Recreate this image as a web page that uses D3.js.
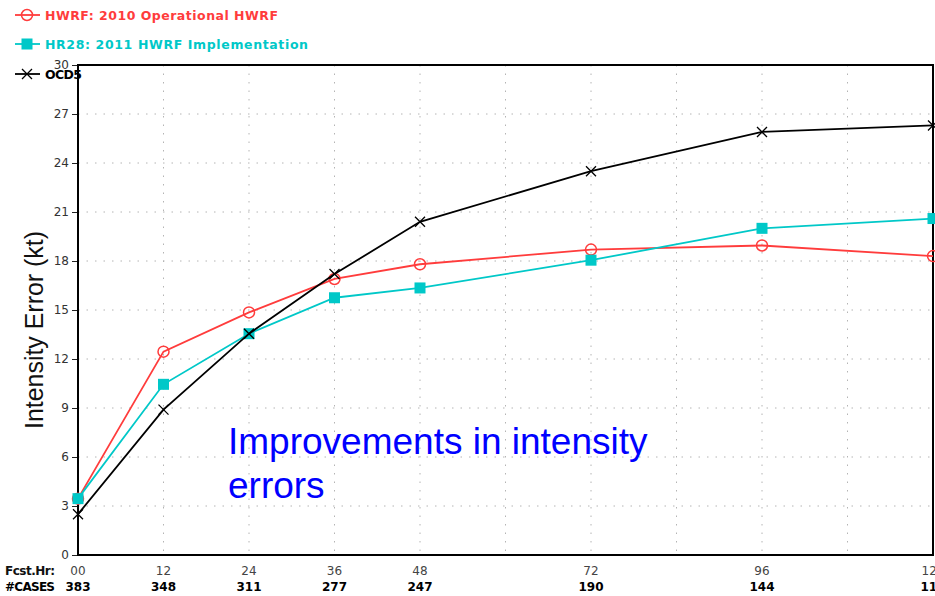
<!DOCTYPE html>
<html>
<head>
<meta charset="utf-8">
<script src="https://cdn.jsdelivr.net/npm/d3@7"></script>
<style>
  body { margin: 0; background: #fff; }
  svg { display: block; }
</style>
</head>
<body>
<div id="chart"></div>
<script>
// Forecast hours and verification sample sizes
const hours = [0, 12, 24, 36, 48, 72, 96, 120];
const hourLabels = ["00", "12", "24", "36", "48", "72", "96", "120"];
const cases = ["383", "348", "311", "277", "247", "190", "144", "113"];
const yTicks = [0, 3, 6, 9, 12, 15, 18, 21, 24, 27, 30];

// Intensity error (kt) per model
const hwrf = [3.45, 12.45, 14.85, 16.9, 17.8, 18.7, 18.95, 18.3];
const hr28 = [3.45, 10.45, 13.55, 15.75, 16.35, 18.05, 20.0, 20.6];
const ocd5 = [2.5, 8.9, 13.55, 17.2, 20.4, 23.5, 25.9, 26.3];

const seriesNames = ["HWRF: 2010 Operational HWRF", "HR28: 2011 HWRF Implementation", "OCD5"];

const width = 935;
const height = 596;
const margins = {top: 65, right: 2, bottom: 41, left: 78};

const svg = d3.select("#chart")
    .append("svg")
    .attr("width", width)
    .attr("height", height);

const xScale = d3.scaleLinear()
    .domain([0, 120])
    .range([margins.left, width - margins.right]);

const yScale = d3.scaleLinear()
    .domain([0, 30])
    .range([height - margins.bottom, margins.top]);

// Dotted grid, every 12 h and every 3 kt
svg.append("g")
    .selectAll("line")
    .data(d3.range(12, 120, 12))
    .enter()
    .append("line")
    .attr("x1", d => xScale(d))
    .attr("x2", d => xScale(d))
    .attr("y1", yScale(30))
    .attr("y2", yScale(0))
    .attr("stroke", "#b4b4b4")
    .attr("stroke-width", 1)
    .attr("stroke-dasharray", "1.5,7");

svg.append("g")
    .selectAll("line")
    .data(yTicks.slice(1, -1))
    .enter()
    .append("line")
    .attr("x1", xScale(0))
    .attr("x2", xScale(120))
    .attr("y1", d => yScale(d))
    .attr("y2", d => yScale(d))
    .attr("stroke", "#b4b4b4")
    .attr("stroke-width", 1)
    .attr("stroke-dasharray", "1.5,7");

// Left axis with short ticks
const yAxis = svg.append("g")
    .attr("transform", `translate(${margins.left},0)`)
    .call(d3.axisLeft(yScale).tickValues(yTicks).tickSize(6).tickPadding(3));
yAxis.select(".domain").remove();
yAxis.selectAll("line").attr("stroke", "#222");
yAxis.selectAll("text")
    .attr("font-family", "DejaVu Sans, sans-serif")
    .attr("font-size", 12)
    .attr("fill", "#333");

// Frame round the plot
svg.append("rect")
    .attr("x", xScale(0))
    .attr("y", yScale(30))
    .attr("width", xScale(120) - xScale(0))
    .attr("height", yScale(0) - yScale(30))
    .attr("fill", "none")
    .attr("stroke", "#000")
    .attr("stroke-width", 2);

// Y-axis label
svg.append("text")
    .attr("transform", `translate(43,${(yScale(0) + yScale(30)) / 2 + 20}) rotate(-90)`)
    .attr("text-anchor", "middle")
    .attr("font-family", "Liberation Sans, Arial, sans-serif")
    .attr("font-size", 25)
    .attr("fill", "#111")
    .attr("textLength", 198)
    .attr("lengthAdjust", "spacing")
    .text("Intensity Error (kt)");

// Bottom rows: forecast hour and number of cases
svg.append("text")
    .attr("x", 5).attr("y", 575)
    .attr("font-family", "DejaVu Sans, sans-serif")
    .attr("font-size", 12)
    .attr("font-weight", "bold")
    .attr("fill", "#111")
    .attr("textLength", 50)
    .text("Fcst.Hr:");

svg.append("text")
    .attr("x", 5).attr("y", 591)
    .attr("font-family", "DejaVu Sans, sans-serif")
    .attr("font-size", 12)
    .attr("font-weight", "bold")
    .attr("fill", "#000")
    .attr("textLength", 50)
    .text("#CASES");

svg.append("g")
    .selectAll("text")
    .data(hours)
    .enter()
    .append("text")
    .attr("x", d => xScale(d))
    .attr("y", 575)
    .attr("text-anchor", "middle")
    .attr("font-family", "DejaVu Sans, sans-serif")
    .attr("font-size", 12)
    .attr("fill", "#444")
    .text((d, i) => hourLabels[i]);

svg.append("g")
    .selectAll("text")
    .data(hours)
    .enter()
    .append("text")
    .attr("x", d => xScale(d))
    .attr("y", 591)
    .attr("text-anchor", "middle")
    .attr("font-family", "DejaVu Sans, sans-serif")
    .attr("font-size", 12)
    .attr("font-weight", "bold")
    .attr("fill", "#000")
    .text((d, i) => cases[i]);

// Series lines and markers
const series = [
    {name: seriesNames[0], values: hwrf, color: "#ff3c3c", marker: "circle"},
    {name: seriesNames[1], values: hr28, color: "#00c8c8", marker: "square"},
    {name: seriesNames[2], values: ocd5, color: "#000000", marker: "cross"}
];

const line = d3.line()
    .x((d, i) => xScale(hours[i]))
    .y(d => yScale(d));

function drawMarker(g, type, color, x, y) {
    if (type === "circle") {
        g.append("circle")
            .attr("cx", x).attr("cy", y).attr("r", 5.5)
            .attr("fill", "none")
            .attr("stroke", color)
            .attr("stroke-width", 1.5);
    } else if (type === "square") {
        g.append("rect")
            .attr("x", x - 5.5).attr("y", y - 5.5)
            .attr("width", 11).attr("height", 11)
            .attr("fill", color);
    } else {
        g.append("path")
            .attr("d", `M${x - 5},${y - 5}L${x + 5},${y + 5}M${x - 5},${y + 5}L${x + 5},${y - 5}`)
            .attr("stroke", color)
            .attr("stroke-width", 1.3)
            .attr("fill", "none");
    }
}

series.forEach(s => {
    svg.append("path")
        .datum(s.values)
        .attr("fill", "none")
        .attr("stroke", s.color)
        .attr("stroke-width", 1.8)
        .attr("d", line);
    const g = svg.append("g");
    s.values.forEach((v, i) => drawMarker(g, s.marker, s.color, xScale(hours[i]), yScale(v)));
});

// Legend at top-left
const legendY = [15, 44, 74];
const legendLen = [233, 263, 37];
series.forEach((s, i) => {
    const g = svg.append("g");
    g.append("line")
        .attr("x1", 15).attr("x2", 40)
        .attr("y1", legendY[i]).attr("y2", legendY[i])
        .attr("stroke", s.color)
        .attr("stroke-width", 1.8);
    drawMarker(g, s.marker, s.color, 27, legendY[i]);
    g.append("text")
        .attr("x", 45)
        .attr("y", legendY[i] + 4.5)
        .attr("font-family", "DejaVu Sans, sans-serif")
        .attr("font-size", 12.5)
        .attr("font-weight", "bold")
        .attr("fill", s.color)
        .attr("textLength", legendLen[i])
        .attr("lengthAdjust", "spacing")
        .text(s.name);
});

// Annotation
const note = svg.append("text")
    .attr("font-family", "Liberation Sans, Arial, sans-serif")
    .attr("font-size", 37)
    .attr("fill", "#0000ff");
note.append("tspan").attr("x", 228).attr("y", 454).text("Improvements in intensity");
note.append("tspan").attr("x", 228).attr("y", 498).text("errors");
</script>
</body>
</html>
